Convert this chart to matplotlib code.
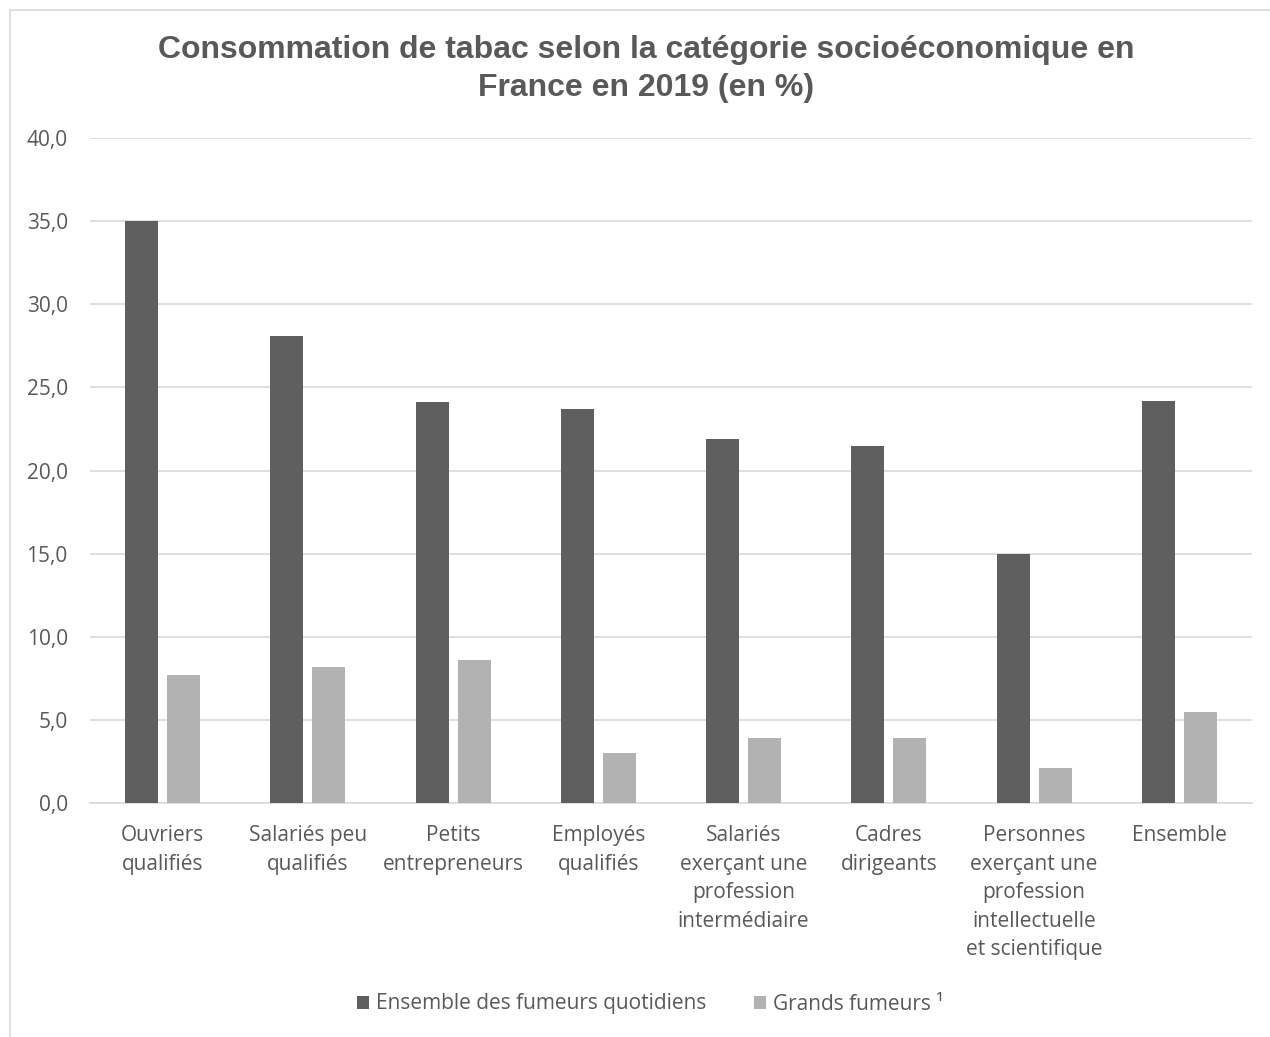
import matplotlib
matplotlib.use("Agg")
import matplotlib.pyplot as plt
import numpy as np
from matplotlib.patches import Rectangle

categories = ["Ouvriers\nqualifiés", "Salariés peu\nqualifiés", "Petits\nentrepreneurs",
              "Employés\nqualifiés", "Salariés\nexerçant une\nprofession\nintermédiaire",
              "Cadres\ndirigeants",
              "Personnes\nexerçant une\nprofession\nintellectuelle\net scientifique",
              "Ensemble"]
quotidiens = [35.0, 28.1, 24.1, 23.7, 21.9, 21.5, 15.0, 24.2]
grands = [7.7, 8.2, 8.6, 3.0, 3.9, 3.9, 2.1, 5.5]
series_names = ["Ensemble des fumeurs quotidiens", "Grands fumeurs ¹"]
yticks = [0, 5, 10, 15, 20, 25, 30, 35, 40]
ytick_labels = ["0,0", "5,0", "10,0", "15,0", "20,0", "25,0", "30,0", "35,0", "40,0"]

txt_font = ["Open Sans", "DejaVu Sans"]
txt_col = "#595959"

fig = plt.figure(figsize=(12.7, 10.37), dpi=100)
fig.patch.set_facecolor("white")
fig.patches.append(Rectangle((10/1270, -0.1), 1.2, 1 - 10/1037 + 0.1,
                             transform=fig.transFigure, fill=False,
                             edgecolor="#d9d9d9", linewidth=1.2))

ax = fig.add_axes([90/1270, 1 - 803/1037, (1252 - 90)/1270, (803 - 138)/1037])
x = np.arange(len(categories))
w = 0.227
gap = 0.062
ax.bar(x - (w + gap)/2, quotidiens, width=w, color="#5f5f5f", label=series_names[0], zorder=3)
ax.bar(x + (w + gap)/2, grands, width=w, color="#b2b2b2", label=series_names[1], zorder=3)

ax.set_xlim(-0.5, len(categories) - 0.5)
ax.set_ylim(0, 40)
ax.set_yticks(yticks)
ax.set_yticklabels(ytick_labels, fontsize=15, color=txt_col, family=txt_font)
ax.set_xticks(x)
ax.set_xticklabels(categories, fontsize=15, color=txt_col, family=txt_font, linespacing=1.47)
ax.tick_params(axis="both", length=0)
ax.tick_params(axis="y", pad=16)
ax.tick_params(axis="x", pad=16)
ax.grid(axis="y", color="#d9d9d9", linewidth=1.2, zorder=0)
for s in ["top", "right", "left"]:
    ax.spines[s].set_visible(False)
ax.spines["bottom"].set_color("#d9d9d9")
ax.spines["bottom"].set_linewidth(1.2)

fig.text(0.509, 1 - 69/1037, "Consommation de tabac selon la catégorie socioéconomique en\nFrance en 2019 (en %)",
         ha="center", va="center", fontsize=23, fontweight="bold", color=txt_col,
         family=["Liberation Sans", "DejaVu Sans"], linespacing=1.32)

leg = fig.legend(loc="center", bbox_to_anchor=(650/1270, 1 - 1004/1037), ncol=2, frameon=False,
                 prop={"family": txt_font, "size": 15}, handlelength=0.6, handleheight=0.6,
                 columnspacing=2.3, handletextpad=0.3)
for t in leg.get_texts():
    t.set_color(txt_col)

fig.savefig("out.png", dpi=100, facecolor="white")
